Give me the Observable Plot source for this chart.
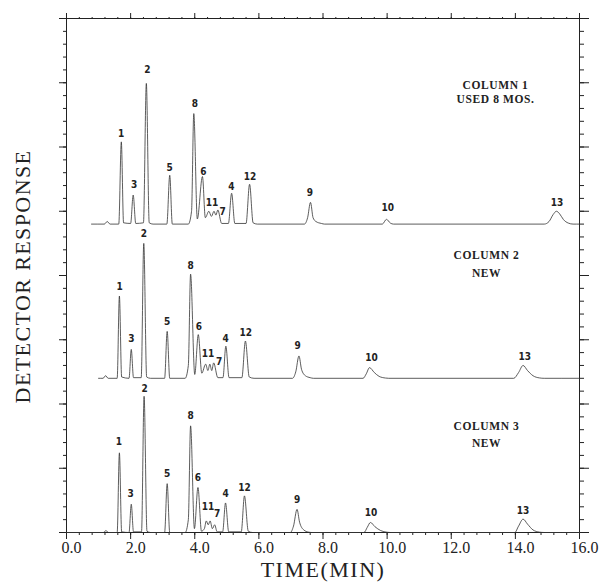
<!DOCTYPE html>
<html><head><meta charset="utf-8">
<script src="https://cdn.jsdelivr.net/npm/d3@7"></script>
<script src="https://cdn.jsdelivr.net/npm/@observablehq/plot@0.6"></script>
<style>
body{margin:0;background:#fff;}
#chart svg{display:block;}
</style></head><body><div id="chart"></div>
<script>
// Chromatogram traces: [time (min), detector response above own baseline]
const column1 = [[0.78,0],[1.18,0],[1.27,0.2],[1.36,0],
  [1.63,0],[1.71,6.4],[1.78,0.1],
  [2.0,0.05],[2.08,2.26],[2.16,0.05],
  [2.40,0.1],[2.49,10.95],[2.58,0.1],[2.7,0],
  [3.13,0],[3.22,3.8],[3.30,0],
  [3.80,0],[3.90,1.0],[3.97,8.6],[4.08,0.4],
  [4.24,3.7],[4.33,0.5],
  [4.44,1.0],[4.52,0.6],
  [4.60,1.0],[4.66,0.7],
  [4.72,1.1],[4.84,0.05],
  [5.05,0.05],[5.15,2.4],[5.25,0.05],
  [5.60,0.05],[5.71,3.1],[5.82,0.1],[5.95,0],
  [7.42,0],[7.52,0.5],[7.61,1.69],[7.69,0.5],[7.78,0.2],[7.95,0.05],[8.05,0],
  [9.85,0],[9.98,0.37],[10.1,0.08],[10.2,0],
  [14.9,0],[15.05,0.2],[15.18,0.75],[15.28,1.0],[15.38,0.8],[15.5,0.35],[15.65,0.08],[15.8,0],[16,0]];
const column2 = [[1.0,0],[1.14,0],[1.22,0.2],[1.30,0],
  [1.58,0],[1.65,6.4],[1.72,0.1],
  [1.95,0],[2.02,2.25],[2.09,0.05],
  [2.33,0.05],[2.41,10.5],[2.50,0.1],[2.62,0],
  [3.06,0],[3.14,3.65],[3.22,0],
  [3.70,0],[3.80,1.0],[3.87,8.1],[4.0,0.3],
  [4.11,3.4],[4.22,0.4],
  [4.34,1.1],[4.41,0.6],
  [4.47,1.1],[4.53,0.6],
  [4.59,1.2],[4.72,0.05],
  [4.88,0.05],[4.97,2.5],[5.07,0.05],
  [5.47,0.05],[5.58,2.9],[5.70,0.1],[5.85,0],
  [7.05,0],[7.15,0.5],[7.25,1.74],[7.33,0.7],[7.45,0.2],[7.6,0.05],[7.7,0],
  [9.25,0],[9.35,0.35],[9.45,0.83],[9.6,0.45],[9.75,0.15],[9.95,0.02],[10.05,0],
  [13.95,0],[14.1,0.45],[14.24,1.0],[14.38,0.6],[14.55,0.2],[14.75,0.03],[14.9,0],[16,0]];
const column3 = [[0,0],[1.15,0],[1.23,0.15],[1.31,0],
  [1.58,0],[1.65,6.2],[1.72,0.05],
  [1.95,0],[2.02,2.2],[2.09,0.05],
  [2.34,0.05],[2.42,10.6],[2.51,0.1],[2.62,0],
  [3.06,0],[3.14,3.8],[3.22,0],
  [3.70,0],[3.80,1.0],[3.87,8.3],[3.99,0.3],
  [4.10,3.5],[4.21,0.1],
  [4.30,0.3],[4.36,0.9],[4.42,0.6],[4.48,0.9],[4.55,0.3],
  [4.62,0.6],[4.70,0.05],
  [4.87,0.05],[4.96,2.3],[5.06,0.05],
  [5.45,0.05],[5.55,2.85],[5.67,0.1],[5.8,0],
  [6.98,0],[7.08,0.5],[7.19,1.8],[7.27,0.8],[7.4,0.2],[7.55,0.03],[7.65,0],
  [9.28,0],[9.38,0.4],[9.48,0.78],[9.62,0.45],[9.8,0.15],[10.0,0.02],[10.1,0],
  [13.98,0],[14.1,0.5],[14.24,1.04],[14.38,0.65],[14.55,0.2],[14.75,0.03],[14.9,0],[16,0]];

// Peak labels: [name, time, response (label anchor)]
const labels1 = [["1",1.70,7.05],["3",2.11,3.08],["2",2.52,12.0],["5",3.22,4.38],["8",4.00,9.36],["6",4.27,4.09],["11",4.54,1.63],["7",4.87,0.93],["4",5.14,2.87],["12",5.72,3.70],["9",7.59,2.4],["10",10.02,1.24],["13",15.3,1.63]];
const labels2 = [["1",1.66,7.09],["3",2.02,3.07],["2",2.41,11.24],["5",3.14,4.37],["8",3.87,8.78],["6",4.13,4.03],["11",4.41,1.9],["7",4.76,1.25],["4",4.96,3.07],["12",5.59,3.51],["9",7.21,2.55],["10",9.51,1.56],["13",14.29,1.64]];
const labels3 = [["1",1.63,7.08],["3",2.0,3.0],["2",2.44,11.18],["5",3.14,4.57],["8",3.87,9.05],["6",4.10,4.23],["11",4.41,1.97],["7",4.70,1.45],["4",4.96,3.0],["12",5.55,3.48],["9",7.19,2.54],["10",9.50,1.53],["13",14.24,1.71]];

const columnTitles = [["COLUMN 1","USED 8 MOS."],["COLUMN 2","NEW"],["COLUMN 3","NEW"]];

const xTicks = [0,2,4,6,8,10,12,14,16];
const xTickLabels = ["0.0","2.0","4.0","6.0","8.0","10.0","12.0","14.0","16.0"];
const xTitle = "TIME(MIN)";
const yTitle = "DETECTOR RESPONSE";

// layout: stacking offsets (response units) and title anchors
const offsets = [24, 12, 0];
const titleAnchors = [[13.38, 34.8, 33.7],[13.1, 21.56, 20.16],[13.1, 8.25, 6.93]];

const traces = [column1, column2, column3].flatMap((pts, i) =>
  pts.map(([t, r]) => ({col: i + 1, t, y: r + offsets[i]})));
const peakLabels = [labels1, labels2, labels3].flatMap((ls, i) =>
  ls.map(([name, t, r]) => ({name, t, y: r + offsets[i]})));
const titles = columnTitles.flatMap((lines, i) => [
  {text: lines[0], t: titleAnchors[i][0], y: titleAnchors[i][1]},
  {text: lines[1], t: titleAnchors[i][0], y: titleAnchors[i][2]}
]);

const minorX = d3.range(0, 16.001, 0.4);
const minorY = d3.range(0, 41, 1);
const majorY = d3.range(0, 41, 5);
const ink = "#222";
const serif = "'Liberation Serif','DejaVu Serif',serif";
const blank = () => "";

const chart = Plot.plot({
  width: 602, height: 588,
  marginLeft: 66, marginRight: 23, marginTop: 18, marginBottom: 56,
  x: {domain: [0, 16]},
  y: {domain: [0, 40]},
  style: {background: "#fff", color: ink},
  marks: [
    Plot.frame({stroke: ink, strokeWidth: 1}),
    Plot.axisX({anchor: "bottom", ticks: minorX, tickSize: 3, tickFormat: blank, label: null}),
    Plot.axisX({anchor: "bottom", ticks: xTicks, tickSize: 7, tickFormat: blank, label: null}),
    Plot.axisX({anchor: "top", ticks: minorX, tickSize: 2, tickFormat: blank, label: null}),
    Plot.axisX({anchor: "top", ticks: xTicks, tickSize: 6, tickFormat: blank, label: null}),
    Plot.axisY({anchor: "left", ticks: minorY, tickSize: 3, tickFormat: blank, label: null}),
    Plot.axisY({anchor: "left", ticks: majorY, tickSize: 7, tickFormat: blank, label: null}),
    Plot.axisY({anchor: "right", ticks: minorY, tickSize: 4, tickFormat: blank, label: null}),
    Plot.axisY({anchor: "right", ticks: majorY, tickSize: 9, tickFormat: blank, label: null}),
    Plot.text(xTicks, {x: d => d, frameAnchor: "bottom", dy: 20, dx: 5,
      text: (d, i) => xTickLabels[i], fontSize: 16, fontFamily: serif, fill: ink}),
    Plot.text([xTitle], {frameAnchor: "bottom", dy: 44, text: d => d, fontSize: 22,
      fontFamily: serif, fill: ink}),
    Plot.text([yTitle], {frameAnchor: "left", textAnchor: "middle", dx: -44, dy: 1, rotate: -90,
      text: d => d, fontSize: 22, fontFamily: serif, fill: ink}),
    Plot.line(traces, {x: "t", y: "y", z: "col", curve: "monotone-x", stroke: "#333", strokeWidth: 0.8}),
    Plot.text(peakLabels, {x: "t", y: "y", text: "name", fontSize: 10, fontWeight: "bold",
      fontFamily: "'DejaVu Sans Condensed','DejaVu Sans',sans-serif", fill: ink}),
    Plot.text(titles, {x: "t", y: "y", text: "text", fontSize: 11.5, fontWeight: "bold",
      fontFamily: serif, fill: ink})
  ]
});
chart.querySelectorAll("text").forEach(t => {
  if (t.textContent === yTitle) t.style.letterSpacing = "1.4px";
  if (t.textContent === xTitle) t.style.letterSpacing = "1.5px";
  if (/^(COLUMN|USED|NEW)/.test(t.textContent)) t.style.letterSpacing = "0.6px";
});
document.getElementById("chart").append(chart);
</script></body></html>
